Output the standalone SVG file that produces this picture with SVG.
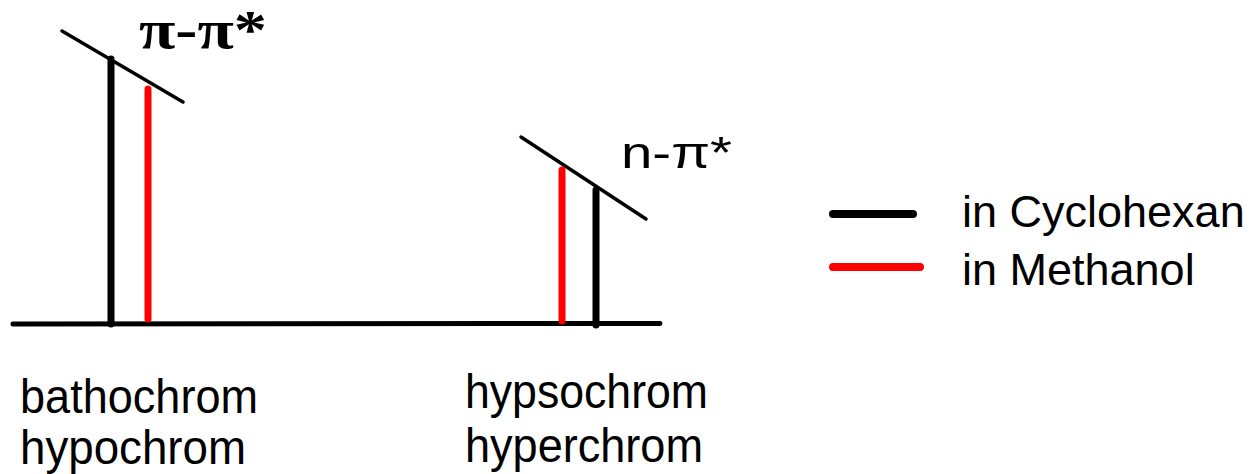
<svg xmlns="http://www.w3.org/2000/svg" width="1254" height="474" viewBox="0 0 1254 474">
<style>
.t{font-family:"Liberation Sans",Arial,sans-serif;fill:#000}
.s{font-family:"Liberation Serif","Times New Roman",serif;fill:#000}
.blk{stroke:#000;stroke-linecap:round;fill:none}
.red{stroke:#ff0000;stroke-linecap:round;fill:none}
</style>
<rect width="1254" height="474" fill="#fff"/>
<g id="connectors">
<line id="baseline" class="blk" x1="13" y1="324" x2="660" y2="323.5" stroke-width="5"/>
<line id="slant1" class="blk" x1="62" y1="31" x2="183" y2="102" stroke-width="3.5"/>
<line id="slant2" class="blk" x1="521" y1="137" x2="646" y2="219" stroke-width="3.5"/>
</g>
<g id="pipi-peak">
<line class="blk" x1="111" y1="59" x2="111" y2="324" stroke-width="7"/>
<line class="red" x1="148" y1="89" x2="148" y2="319" stroke-width="7"/>
<text class="s" x="139" y="48" font-size="54" font-weight="bold" textLength="128" lengthAdjust="spacingAndGlyphs">π-π*</text>
</g>
<g id="npi-peak">
<line class="red" x1="562" y1="170" x2="562" y2="321" stroke-width="7"/>
<line class="blk" x1="596" y1="190" x2="596" y2="325" stroke-width="7"/>
<text class="t" x="621" y="168" font-size="45" textLength="111" lengthAdjust="spacingAndGlyphs">n-π*</text>
</g>
<g id="legend">
<line class="blk" x1="833" y1="214" x2="913" y2="214" stroke-width="8"/>
<line class="red" x1="833" y1="267" x2="920" y2="267" stroke-width="8"/>
<text class="t" x="962" y="227" font-size="45">in Cyclohexan</text>
<text class="t" x="962" y="285" font-size="45">in Methanol</text>
</g>
<g id="label-left">
<text class="t" x="20" y="413" font-size="48" textLength="238" lengthAdjust="spacingAndGlyphs">bathochrom</text>
<text class="t" x="20" y="464" font-size="48" textLength="226" lengthAdjust="spacingAndGlyphs">hypochrom</text>
</g>
<g id="label-right">
<text class="t" x="465" y="408" font-size="48" textLength="243" lengthAdjust="spacingAndGlyphs">hypsochrom</text>
<text class="t" x="465" y="462" font-size="48" textLength="238" lengthAdjust="spacingAndGlyphs">hyperchrom</text>
</g>
</svg>
